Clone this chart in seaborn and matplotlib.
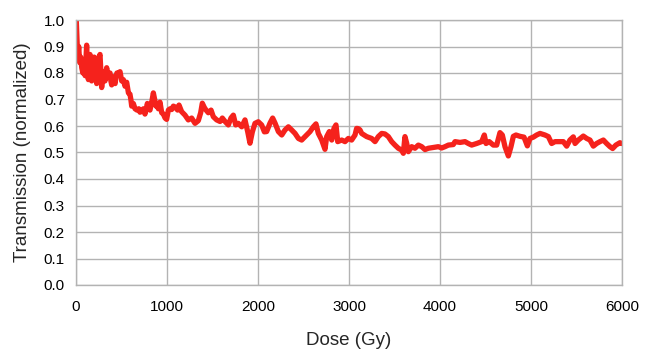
import matplotlib
matplotlib.use("Agg")
import matplotlib.pyplot as plt
import seaborn as sns
import pandas as pd
from matplotlib.ticker import FormatStrFormatter, MultipleLocator

# values
dose = [
    0, 3, 8, 14, 22, 30, 40, 52, 63, 75, 88, 100, 117, 128, 136, 146, 154, 163, 172, 185,
    200, 209, 220, 227, 240, 252, 264, 274, 282, 292, 301, 311, 319, 328, 337, 347, 356, 365,
    374, 383, 392, 402, 411, 421, 430, 440, 450, 465, 484, 502, 520, 539, 557, 576, 593, 603,
    612, 630, 649, 670, 690, 703, 722, 740, 758, 772, 784, 800, 813, 832, 850, 865, 879, 893,
    905, 923, 942, 960, 979, 996, 1015, 1033, 1051, 1070, 1088, 1117, 1132, 1161, 1198, 1234,
    1271, 1308, 1344, 1370, 1388, 1410, 1425, 1454, 1484, 1509, 1546, 1583, 1608, 1638, 1674,
    1703, 1729, 1755, 1784, 1821, 1857, 1887, 1912, 1938, 1967, 2003, 2040, 2070, 2095, 2132,
    2161, 2187, 2224, 2261, 2297, 2334, 2370, 2407, 2444, 2480, 2517, 2572, 2608, 2637, 2663,
    2700, 2736, 2755, 2784, 2810, 2835, 2857, 2876, 2920, 2956, 2993, 3029, 3066, 3084, 3103,
    3121, 3139, 3194, 3249, 3286, 3322, 3359, 3395, 3432, 3469, 3505, 3542, 3579, 3597, 3615,
    3634, 3652, 3689, 3725, 3762, 3799, 3835, 3872, 3927, 3982, 4018, 4055, 4092, 4146, 4165,
    4220, 4275, 4311, 4348, 4403, 4458, 4487, 4506, 4541, 4586, 4623, 4659, 4685, 4714, 4751,
    4780, 4806, 4835, 4879, 4923, 4960, 4989, 5026, 5062, 5099, 5154, 5191, 5227, 5264, 5300,
    5355, 5392, 5428, 5465, 5484, 5520, 5575, 5612, 5648, 5685, 5721, 5758, 5795, 5831, 5868,
    5897, 5933, 5977, 5995,
]
transmission = [
    0.88, 1.00, 0.95, 0.90, 0.87, 0.90, 0.84, 0.86, 0.82, 0.80, 0.85, 0.79, 0.905, 0.80, 0.775,
    0.84, 0.87, 0.80, 0.77, 0.83, 0.86, 0.85, 0.79, 0.76, 0.82, 0.86, 0.87, 0.80, 0.745, 0.78,
    0.805, 0.79, 0.77, 0.80, 0.82, 0.80, 0.785, 0.80, 0.80, 0.77, 0.755, 0.77, 0.785, 0.77,
    0.76, 0.79, 0.80, 0.80, 0.805, 0.77, 0.775, 0.75, 0.765, 0.725, 0.72, 0.70, 0.675, 0.685,
    0.665, 0.66, 0.665, 0.652, 0.655, 0.665, 0.645, 0.665, 0.685, 0.665, 0.66, 0.69, 0.725,
    0.70, 0.675, 0.68, 0.665, 0.69, 0.65, 0.645, 0.63, 0.625, 0.66, 0.665, 0.662, 0.675, 0.672,
    0.66, 0.679, 0.654, 0.641, 0.623, 0.63, 0.61, 0.62, 0.65, 0.686, 0.67, 0.662, 0.65, 0.66,
    0.635, 0.623, 0.617, 0.63, 0.617, 0.604, 0.63, 0.641, 0.604, 0.61, 0.597, 0.623, 0.578,
    0.535, 0.578, 0.61, 0.616, 0.604, 0.578, 0.579, 0.611, 0.630, 0.611, 0.579, 0.566, 0.585,
    0.597, 0.585, 0.572, 0.553, 0.547, 0.560, 0.579, 0.597, 0.608, 0.572, 0.547, 0.512, 0.560,
    0.579, 0.547, 0.591, 0.604, 0.541, 0.547, 0.541, 0.553, 0.547, 0.566, 0.591, 0.590, 0.585,
    0.572, 0.560, 0.553, 0.541, 0.560, 0.572, 0.570, 0.560, 0.541, 0.528, 0.516, 0.509, 0.497,
    0.560, 0.535, 0.503, 0.522, 0.516, 0.528, 0.522, 0.511, 0.516, 0.519, 0.522, 0.517, 0.522,
    0.528, 0.530, 0.541, 0.538, 0.541, 0.534, 0.528, 0.534, 0.541, 0.566, 0.534, 0.541, 0.528,
    0.528, 0.575, 0.566, 0.522, 0.487, 0.522, 0.561, 0.566, 0.561, 0.558, 0.525, 0.553, 0.558,
    0.566, 0.572, 0.566, 0.560, 0.534, 0.541, 0.541, 0.541, 0.524, 0.547, 0.559, 0.534, 0.547,
    0.562, 0.553, 0.547, 0.524, 0.534, 0.541, 0.547, 0.534, 0.522, 0.515, 0.528, 0.537, 0.534,
]

GRID = '#b3b3b3'

sns.set_style("white")
plt.rcParams['font.family'] = ['Liberation Sans', 'DejaVu Sans']

df = pd.DataFrame({'dose': dose, 'transmission': transmission})

fig = plt.figure(figsize=(6.47, 3.53), dpi=100)
ax = fig.add_axes([76 / 647, 1 - 285 / 353, 546 / 647, 265 / 353])

sns.lineplot(data=df, x='dose', y='transmission', color='#f5221c',
             linewidth=3.8, ax=ax, estimator=None, sort=False,
             solid_joinstyle='round', solid_capstyle='round')

ax.set_xlim(0, 6000)
ax.set_ylim(0, 1.0)
ax.xaxis.set_major_locator(MultipleLocator(1000))
ax.yaxis.set_major_locator(MultipleLocator(0.1))
ax.yaxis.set_major_formatter(FormatStrFormatter('%.1f'))
ax.grid(True, color=GRID, linewidth=1.0)
ax.set_axisbelow(True)
for sp in ax.spines.values():
    sp.set_color(GRID)
    sp.set_linewidth(1.0)
ax.tick_params(axis='both', direction='out', length=5, width=1, color=GRID,
               labelsize=11, labelcolor='black', pad=3)
ax.tick_params(axis='x', pad=6)

ax.set_xlabel('Dose (Gy)', fontsize=13.5, labelpad=13)
ax.set_ylabel('Transmission (normalized)', fontsize=13.5, labelpad=9)

fig.savefig('out.png', dpi=100)
